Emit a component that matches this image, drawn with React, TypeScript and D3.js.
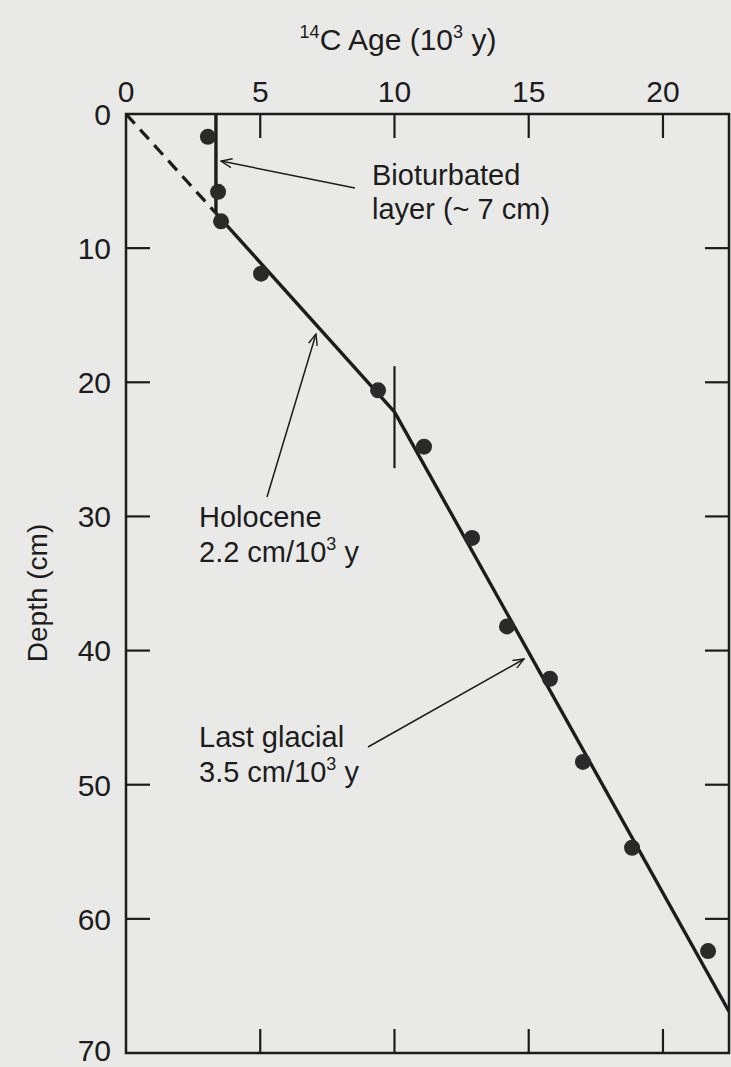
import React from "react";
import * as d3 from "d3";

const ages = [3.05, 3.43, 3.54, 5.03, 9.39, 11.1, 12.89, 14.19, 15.79, 17.02, 18.85, 21.68];
const depths = [1.7, 5.8, 8.0, 11.9, 20.6, 24.8, 31.6, 38.2, 42.1, 48.3, 54.7, 62.4];

const dashedAge = [0, 3.35];
const dashedDepth = [0, 7.4];
const bioAge = [3.35, 3.35];
const bioDepth = [0, 7.4];
const holoAge = [3.35, 10];
const holoDepth = [7.4, 22.2];
const glacAge = [10, 22.46];
const glacDepth = [22.2, 66.9];
const breakAge = 10;
const breakDepth = [18.8, 26.4];

const xTicks = [0, 5, 10, 15, 20];
const yTicks = [0, 10, 20, 30, 40, 50, 60, 70];

const W = 731;
const H = 1067;
const L = 126, R = 729, T = 114, B = 1053;
const INK = "#1c1c1c";
const FONT = "'Liberation Sans', Arial, sans-serif";

export default function App() {
  const x = d3.scaleLinear().domain([0, 22.46]).range([L, R]);
  const y = d3.scaleLinear().domain([0, 70]).range([T, B]);
  const line = d3
    .line<[number, number]>()
    .x((d) => x(d[0]))
    .y((d) => y(d[1]));
  const seg = (a: number[], dd: number[]) =>
    line(a.map((v, i) => [v, dd[i]] as [number, number])) || "";

  const tickLen = 24;

  const arrows = [
    { x1: 355, y1: 188, x2: 221, y2: 161 },
    { x1: 267, y1: 497, x2: 316, y2: 334 },
    { x1: 368, y1: 747, x2: 524, y2: 659 },
  ];

  return (
    <svg
      width={W}
      height={H}
      style={{ position: "absolute", left: 0, top: 0, display: "block" }}
      fontFamily={FONT}
    >
      <defs>
        <marker
          id="arr"
          viewBox="0 0 12 10"
          refX="11"
          refY="5"
          markerWidth="12"
          markerHeight="10"
          markerUnits="userSpaceOnUse"
          orient="auto"
        >
          <path d="M0,0.5 L11,5 L0,9.5" fill="none" stroke={INK} strokeWidth={1.4} />
        </marker>
        <clipPath id="plot">
          <rect x={L} y={T} width={R - L} height={B - T} />
        </clipPath>
      </defs>
      <rect x={0} y={0} width={W} height={H} fill="#e9e9e8" />

      {/* frame */}
      <rect x={L} y={T} width={R - L} height={B - T} fill="none" stroke={INK} strokeWidth={2.5} />

      {/* ticks */}
      {xTicks.filter((t) => t > 0).map((t) => (
        <g key={"xt" + t}>
          <line x1={x(t)} x2={x(t)} y1={T} y2={T + tickLen} stroke={INK} strokeWidth={2.2} />
          <line x1={x(t)} x2={x(t)} y1={B} y2={B - tickLen} stroke={INK} strokeWidth={2.2} />
        </g>
      ))}
      {yTicks.filter((t) => t > 0 && t < 70).map((t) => (
        <g key={"yt" + t}>
          <line x1={L} x2={L + tickLen} y1={y(t)} y2={y(t)} stroke={INK} strokeWidth={2.2} />
          <line x1={R} x2={R - tickLen} y1={y(t)} y2={y(t)} stroke={INK} strokeWidth={2.2} />
        </g>
      ))}

      {/* tick labels */}
      {xTicks.map((t) => (
        <text key={"xl" + t} x={x(t)} y={102} textAnchor="middle" fontSize={30} fill={INK}>
          {t}
        </text>
      ))}
      {yTicks.map((t) => (
        <text
          key={"yl" + t}
          x={111}
          y={t === 70 ? y(t) - 3 : y(t)}
          dy="0.36em"
          textAnchor="end"
          fontSize={30}
          fill={INK}
        >
          {t}
        </text>
      ))}

      {/* axis titles */}
      <text x={398} y={50} textAnchor="middle" fontSize={30} fill={INK}>
        <tspan fontSize={18} dy={-12}>14</tspan>
        <tspan dy={12}>C Age (10</tspan>
        <tspan fontSize={18} dy={-12}>3</tspan>
        <tspan dy={12}> y)</tspan>
      </text>
      <text
        transform={`translate(47,593) rotate(-90)`}
        textAnchor="middle"
        fontSize={28}
        fill={INK}
      >
        Depth (cm)
      </text>

      {/* fit lines */}
      <g clipPath="url(#plot)" fill="none" stroke={INK}>
        <path d={seg(dashedAge, dashedDepth)} strokeWidth={3.2} strokeDasharray="13,8" />
        <path d={seg(bioAge, bioDepth)} strokeWidth={3.4} />
        <path d={seg(holoAge, holoDepth)} strokeWidth={3.4} />
        <path d={seg(glacAge, glacDepth)} strokeWidth={3.4} />
        <line
          x1={x(breakAge)}
          x2={x(breakAge)}
          y1={y(breakDepth[0])}
          y2={y(breakDepth[1])}
          strokeWidth={2.2}
        />
      </g>

      {/* points */}
      {ages.map((a, i) => (
        <circle key={"p" + i} cx={x(a)} cy={y(depths[i])} r={8} fill="#2a2a2a" />
      ))}

      {/* annotation arrows */}
      {arrows.map((a, i) => (
        <line
          key={"a" + i}
          x1={a.x1}
          y1={a.y1}
          x2={a.x2}
          y2={a.y2}
          stroke={INK}
          strokeWidth={1.5}
          markerEnd="url(#arr)"
        />
      ))}

      {/* annotation labels */}
      <g fontSize={29} fill={INK}>
        <text x={372} y={185}>Bioturbated</text>
        <text x={372} y={219}>layer (~ 7 cm)</text>
        <text x={199} y={527}>Holocene</text>
        <text x={199} y={562}>
          2.2 cm/10<tspan fontSize={18} dy={-12}>3</tspan>
          <tspan dy={12}> y</tspan>
        </text>
        <text x={199} y={747}>Last glacial</text>
        <text x={199} y={782}>
          3.5 cm/10<tspan fontSize={18} dy={-12}>3</tspan>
          <tspan dy={12}> y</tspan>
        </text>
      </g>
    </svg>
  );
}
